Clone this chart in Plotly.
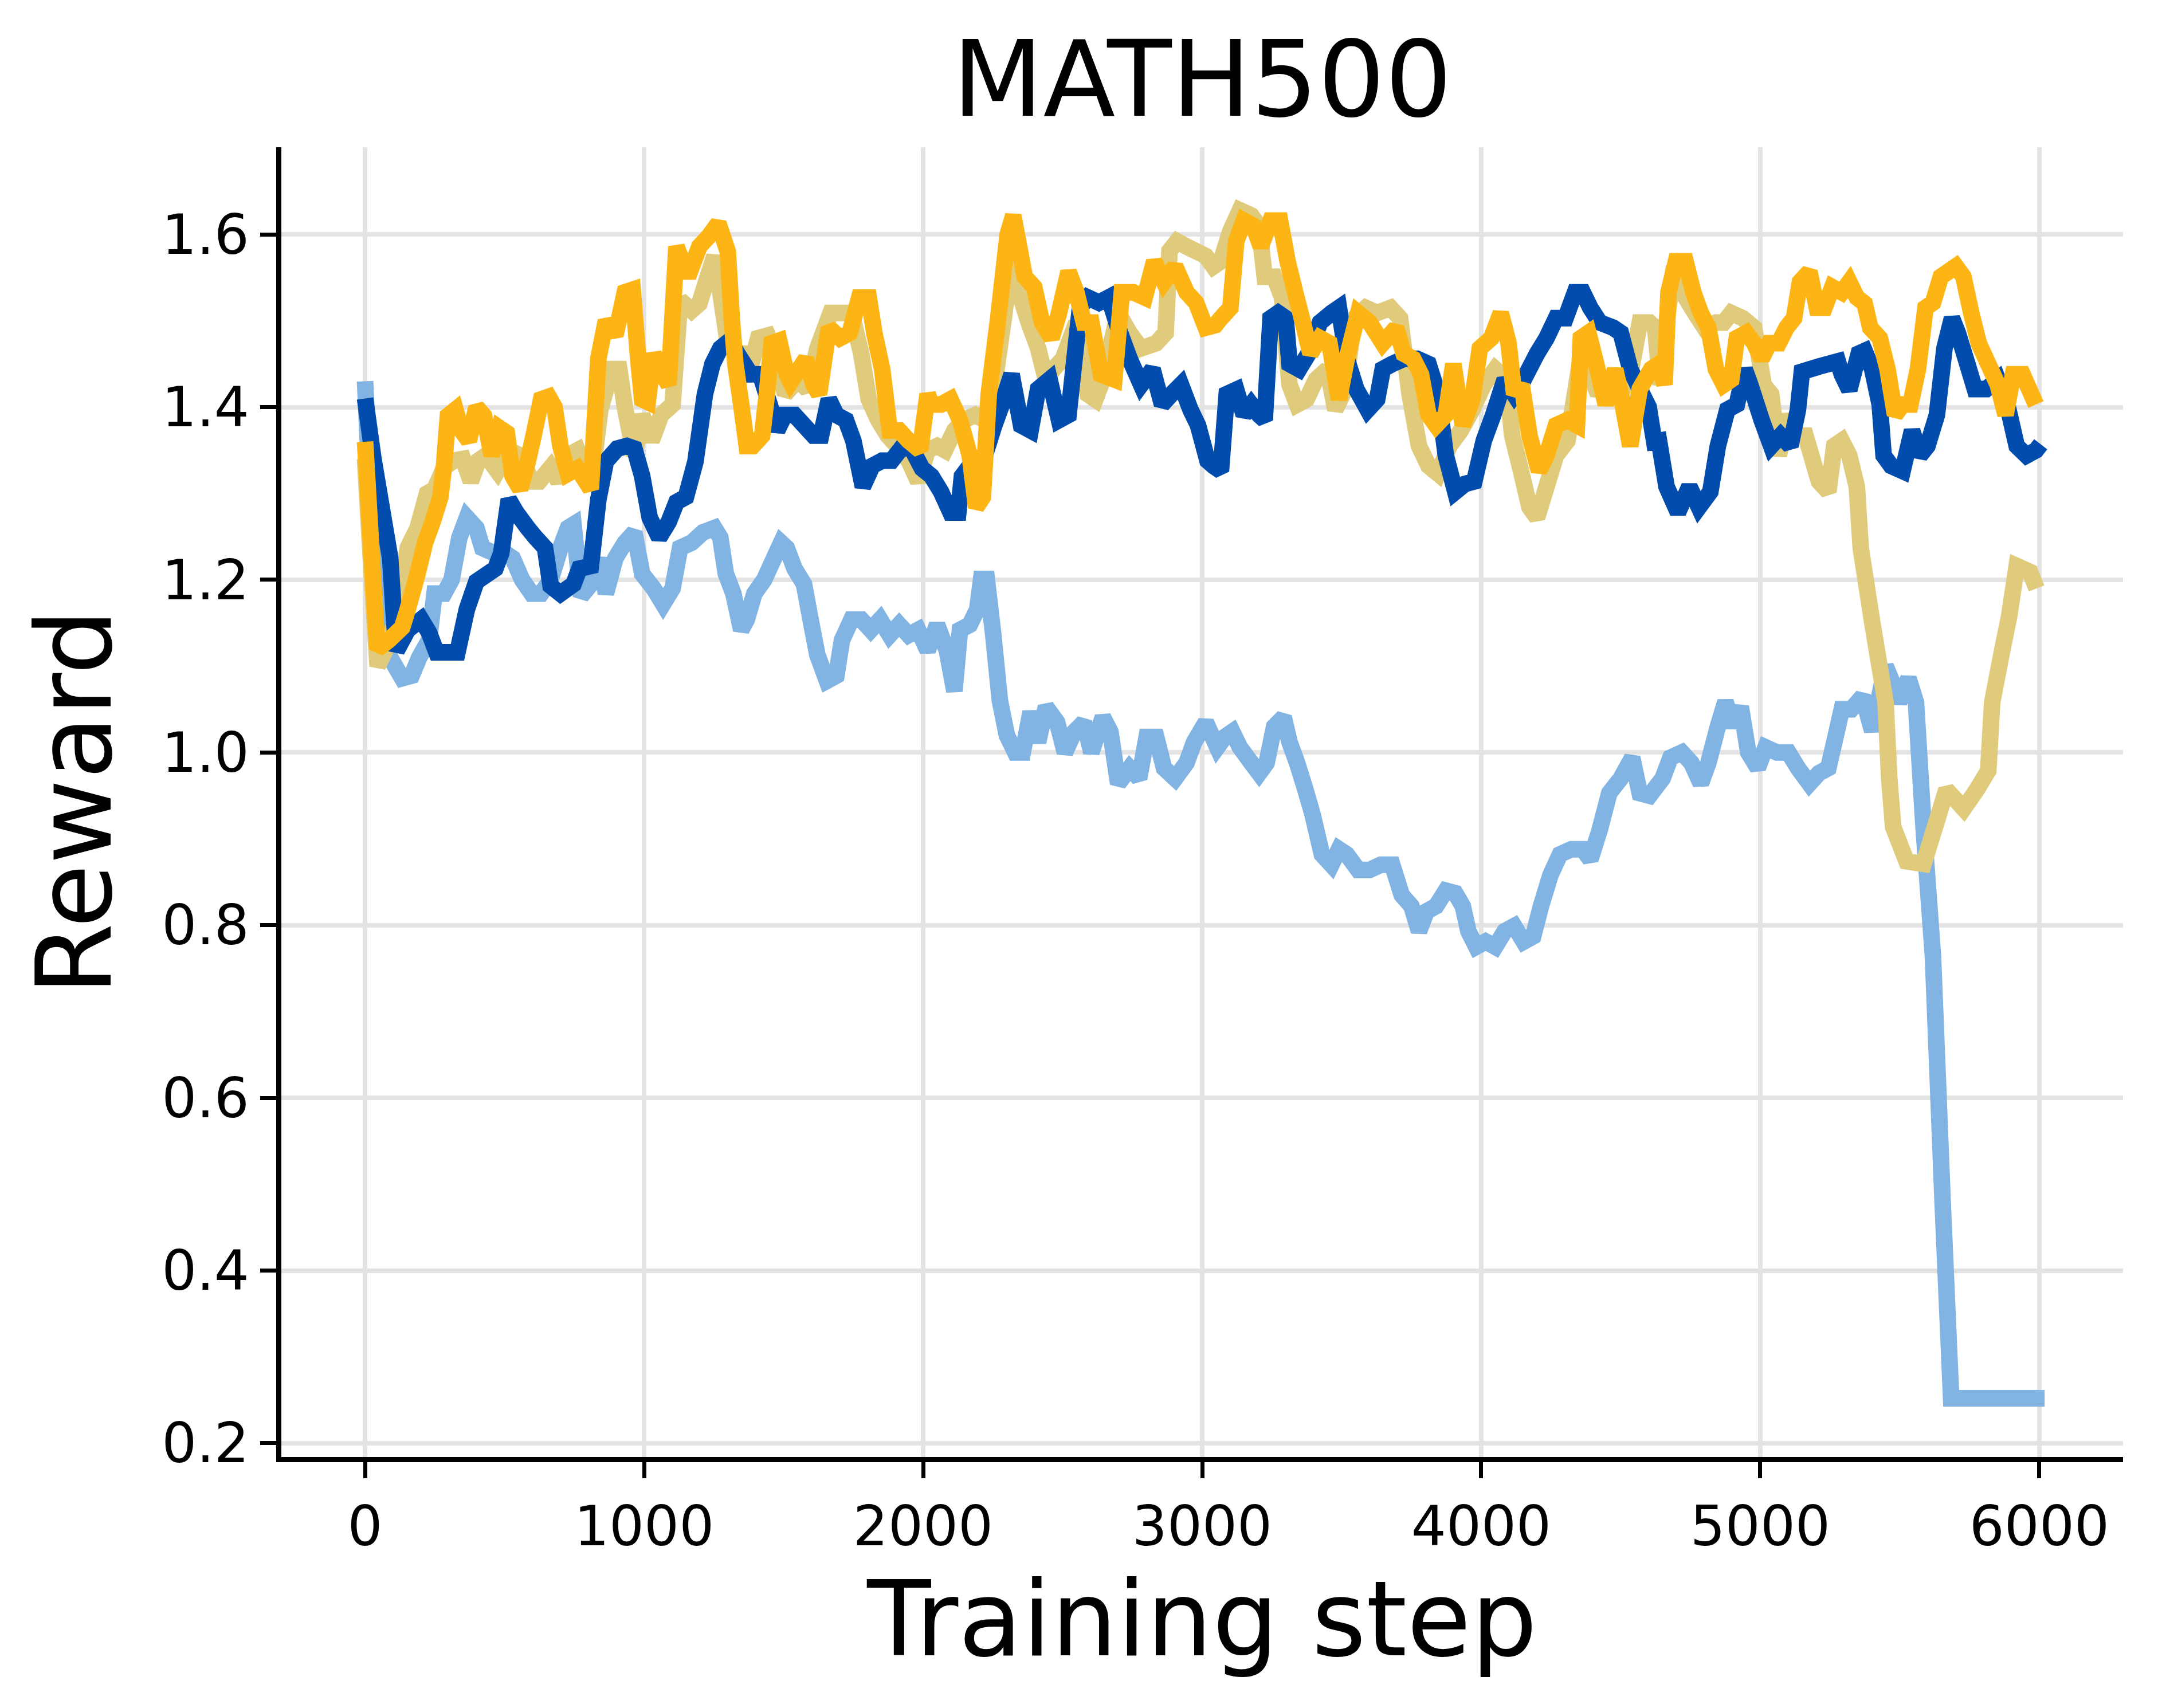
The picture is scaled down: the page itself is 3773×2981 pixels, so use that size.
import plotly.graph_objects as go

# ---------------- data ----------------
lb_steps = [0, 25, 50, 90, 133, 167, 194, 229, 249, 283,
            310, 338, 365, 399, 420, 461, 501, 529, 563, 597,
            631, 665, 700, 727, 747, 774, 822, 843, 863, 897,
            931, 965, 993, 1034, 1068, 1102, 1129, 1170, 1211, 1252,
            1273, 1293, 1320, 1348, 1368, 1395, 1430, 1457, 1491, 1511,
            1539, 1573, 1600, 1621, 1655, 1689, 1709, 1743, 1778, 1812,
            1846, 1880, 1914, 1948, 1982, 2016, 2050, 2085, 2112, 2132,
            2167, 2194, 2208, 2228, 2250, 2275, 2300, 2330, 2357, 2385,
            2412, 2440, 2480, 2508, 2542, 2576, 2603, 2644, 2671, 2699,
            2740, 2774, 2801, 2835, 2863, 2903, 2944, 2971, 3013, 3054,
            3081, 3108, 3135, 3176, 3204, 3231, 3258, 3292, 3313, 3340,
            3368, 3395, 3429, 3463, 3490, 3518, 3559, 3600, 3640, 3681,
            3715, 3750, 3777, 3804, 3838, 3873, 3907, 3934, 3954, 3982,
            4016, 4050, 4084, 4118, 4152, 4186, 4214, 4248, 4282, 4323,
            4364, 4391, 4425, 4459, 4500, 4541, 4568, 4603, 4650, 4678,
            4719, 4753, 4787, 4814, 4848, 4875, 4903, 4930, 4957, 4991,
            5019, 5060, 5101, 5135, 5176, 5210, 5244, 5271, 5292, 5326,
            5367, 5401, 5449, 5476, 5497, 5531, 5558, 5585, 5619, 5653,
            5684, 6019]
lb_reward = [1.43, 1.25, 1.15, 1.11, 1.086, 1.089, 1.11, 1.13, 1.184, 1.184,
             1.20, 1.249, 1.272, 1.26, 1.237, 1.231, 1.231, 1.225, 1.20, 1.184,
             1.184, 1.20, 1.237, 1.26, 1.264, 1.181, 1.20, 1.225, 1.184, 1.225,
             1.243, 1.255, 1.207, 1.19, 1.172, 1.19, 1.237, 1.243, 1.255, 1.26,
             1.249, 1.207, 1.184, 1.142, 1.154, 1.184, 1.20, 1.219, 1.243, 1.237,
             1.213, 1.195, 1.148, 1.113, 1.083, 1.089, 1.13, 1.154, 1.154, 1.142,
             1.154, 1.136, 1.148, 1.136, 1.142, 1.118, 1.148, 1.118, 1.071, 1.142,
             1.148, 1.166, 1.201, 1.201, 1.14, 1.06, 1.02, 1.0, 1.0, 1.047,
             1.012, 1.053, 1.035, 1.0, 1.024, 1.035, 1.0, 1.041, 1.024, 0.964,
             0.982, 0.97, 1.018, 1.018, 0.982, 0.97, 0.988, 1.012, 1.035, 1.006,
             1.018, 1.024, 1.006, 0.988, 0.976, 0.988, 1.03, 1.041, 1.012, 0.988,
             0.959, 0.929, 0.882, 0.87, 0.888, 0.882, 0.864, 0.864, 0.87, 0.87,
             0.835, 0.822, 0.793, 0.816, 0.822, 0.84, 0.837, 0.822, 0.793, 0.775,
             0.781, 0.775, 0.793, 0.799, 0.781, 0.787, 0.822, 0.858, 0.882, 0.888,
             0.888, 0.876, 0.911, 0.953, 0.97, 0.994, 0.953, 0.95, 0.97, 0.994,
             1.0, 0.988, 0.964, 0.988, 1.03, 1.059, 1.03, 1.053, 1.0, 0.982,
             1.006, 1.0, 1.0, 0.982, 0.964, 0.976, 0.982, 1.02, 1.05, 1.05,
             1.065, 1.025, 1.10, 1.079, 1.058, 1.086, 1.058, 0.914, 0.763, 0.483,
             0.252, 0.252]

db_steps = [0, 30, 90, 105, 113, 153, 201, 229, 256, 331,
            365, 399, 467, 488, 515, 542, 583, 611, 645, 665,
            700, 747, 768, 809, 836, 863, 904, 938, 965, 993,
            1020, 1054, 1088, 1116, 1150, 1184, 1218, 1245, 1273, 1307,
            1334, 1382, 1416, 1450, 1477, 1504, 1539, 1573, 1607, 1634,
            1662, 1689, 1723, 1750, 1784, 1818, 1853, 1887, 1928, 1962,
            1996, 2030, 2064, 2098, 2126, 2139, 2167, 2221, 2255, 2282,
            2317, 2351, 2385, 2412, 2453, 2487, 2521, 2562, 2590, 2630,
            2665, 2699, 2740, 2781, 2822, 2856, 2890, 2924, 2958, 2985,
            3019, 3040, 3067, 3088, 3122, 3149, 3176, 3204, 3224, 3245,
            3272, 3299, 3313, 3347, 3381, 3422, 3463, 3490, 3518, 3552,
            3593, 3627, 3647, 3681, 3722, 3770, 3811, 3845, 3873, 3907,
            3941, 3975, 4009, 4043, 4084, 4118, 4152, 4200, 4234, 4268,
            4302, 4336, 4364, 4391, 4425, 4473, 4500, 4534, 4568, 4600,
            4620, 4637, 4664, 4705, 4746, 4780, 4821, 4848, 4882, 4916,
            4944, 4964, 5005, 5039, 5073, 5108, 5135, 5149, 5210, 5278,
            5292, 5319, 5353, 5374, 5401, 5428, 5442, 5469, 5510, 5544,
            5572, 5599, 5633, 5660, 5687, 5708, 5742, 5769, 5810, 5851,
            5885, 5919, 5954, 5988, 6005]
db_reward = [1.41, 1.34, 1.225, 1.15, 1.118, 1.142, 1.154, 1.139, 1.116, 1.116,
             1.166, 1.198, 1.213, 1.231, 1.293, 1.278, 1.26, 1.249, 1.237, 1.193,
             1.184, 1.195, 1.213, 1.216, 1.293, 1.337, 1.352, 1.355, 1.352, 1.32,
             1.272, 1.249, 1.267, 1.29, 1.296, 1.337, 1.415, 1.45, 1.468, 1.477,
             1.462, 1.438, 1.438, 1.403, 1.373, 1.391, 1.391, 1.379, 1.367, 1.367,
             1.409, 1.391, 1.385, 1.361, 1.308, 1.332, 1.338, 1.338, 1.355, 1.35,
             1.329, 1.32, 1.302, 1.278, 1.278, 1.32, 1.332, 1.344, 1.379, 1.403,
             1.438, 1.379, 1.373, 1.421, 1.432, 1.385, 1.391, 1.515, 1.527, 1.521,
             1.527, 1.492, 1.456, 1.426, 1.444, 1.403, 1.415, 1.426, 1.397, 1.379,
             1.338, 1.332, 1.326, 1.415, 1.42, 1.391, 1.403, 1.391, 1.385, 1.503,
             1.509, 1.503, 1.45, 1.444, 1.462, 1.498, 1.509, 1.515, 1.456, 1.421,
             1.397, 1.409, 1.444, 1.45, 1.456, 1.456, 1.45, 1.415, 1.344, 1.302,
             1.311, 1.314, 1.361, 1.391, 1.432, 1.415, 1.432, 1.462, 1.48, 1.503,
             1.503, 1.533, 1.533, 1.515, 1.498, 1.492, 1.486, 1.444, 1.421, 1.40,
             1.36, 1.361, 1.308, 1.278, 1.308, 1.284, 1.302, 1.355, 1.397, 1.403,
             1.444, 1.426, 1.385, 1.355, 1.367, 1.355, 1.397, 1.441, 1.447, 1.453,
             1.438, 1.42, 1.462, 1.465, 1.444, 1.403, 1.344, 1.332, 1.326, 1.373,
             1.344, 1.355, 1.391, 1.468, 1.503, 1.486, 1.45, 1.421, 1.421, 1.432,
             1.403, 1.355, 1.344, 1.35, 1.357]

tan_steps = [0, 25, 45, 90, 126, 153, 188, 222, 249, 283,
             317, 351, 379, 406, 433, 474, 515, 556, 597, 624,
             665, 693, 727, 761, 809, 843, 884, 911, 931, 965,
             993, 1027, 1061, 1102, 1129, 1170, 1198, 1225, 1252, 1273,
             1300, 1334, 1361, 1382, 1409, 1443, 1477, 1505, 1552, 1586,
             1621, 1668, 1709, 1743, 1778, 1805, 1839, 1873, 1907, 1948,
             1982, 2016, 2050, 2078, 2112, 2146, 2187, 2221, 2255, 2289,
             2317, 2344, 2378, 2412, 2440, 2467, 2501, 2549, 2590, 2617,
             2644, 2699, 2740, 2781, 2835, 2869, 2883, 2910, 2944, 3013,
             3040, 3067, 3101, 3135, 3176, 3203, 3224, 3258, 3286, 3313,
             3340, 3374, 3408, 3449, 3477, 3511, 3545, 3586, 3627, 3675,
             3709, 3743, 3777, 3811, 3845, 3886, 3927, 3968, 4009, 4050,
             4091, 4111, 4138, 4173, 4200, 4234, 4268, 4309, 4350, 4377,
             4418, 4466, 4500, 4534, 4568, 4603, 4623, 4643, 4664, 4691,
             4732, 4766, 4800, 4841, 4869, 4896, 4937, 4978, 5012, 5039,
             5066, 5101, 5128, 5162, 5183, 5210, 5244, 5265, 5292, 5319,
             5346, 5360, 5401, 5449, 5462, 5476, 5524, 5585, 5633, 5667,
             5729, 5776, 5817, 5831, 5865, 5892, 5919, 5967, 5990]
tan_reward = [1.34, 1.20, 1.10, 1.13, 1.178, 1.237, 1.26, 1.30, 1.305, 1.33,
              1.338, 1.34, 1.314, 1.338, 1.344, 1.326, 1.35, 1.344, 1.314, 1.314,
              1.33, 1.314, 1.344, 1.35, 1.308, 1.397, 1.444, 1.444, 1.40, 1.344,
              1.391, 1.361, 1.391, 1.403, 1.524, 1.512, 1.52, 1.548, 1.575, 1.533,
              1.474, 1.462, 1.462, 1.447, 1.48, 1.483, 1.456, 1.415, 1.432, 1.42,
              1.468, 1.509, 1.509, 1.509, 1.462, 1.409, 1.385, 1.367, 1.355, 1.338,
              1.314, 1.35, 1.355, 1.35, 1.373, 1.385, 1.391, 1.385, 1.426, 1.503,
              1.574, 1.533, 1.498, 1.468, 1.432, 1.444, 1.456, 1.498, 1.415, 1.409,
              1.432, 1.509, 1.486, 1.468, 1.474, 1.486, 1.581, 1.592, 1.586, 1.575,
              1.563, 1.569, 1.604, 1.628, 1.622, 1.61, 1.551, 1.551, 1.527, 1.426,
              1.403, 1.409, 1.432, 1.444, 1.397, 1.42, 1.503, 1.515, 1.509, 1.515,
              1.503, 1.415, 1.355, 1.332, 1.323, 1.355, 1.373, 1.397, 1.426, 1.444,
              1.432, 1.367, 1.332, 1.284, 1.272, 1.308, 1.344, 1.361, 1.444, 1.45,
              1.415, 1.438, 1.415, 1.438, 1.498, 1.498, 1.492, 1.426, 1.498, 1.563,
              1.527, 1.509, 1.492, 1.498, 1.498, 1.509, 1.503, 1.492, 1.426, 1.415,
              1.344, 1.391, 1.367, 1.367, 1.344, 1.314, 1.302, 1.355, 1.361, 1.344,
              1.308, 1.237, 1.151, 1.058, 0.971, 0.914, 0.874, 0.871, 0.921, 0.957,
              0.935, 0.957, 0.979, 1.058, 1.115, 1.158, 1.216, 1.209, 1.19]

gold_steps = [0, 25, 44, 85, 133, 153, 188, 215, 242, 270,
              283, 297, 324, 345, 372, 399, 426, 454, 481, 508,
              529, 556, 583, 604, 631, 658, 679, 700, 727, 761,
              809, 836, 863, 897, 931, 959, 979, 993, 1013, 1034,
              1061, 1088, 1116, 1157, 1198, 1232, 1266, 1300, 1314, 1327,
              1348, 1368, 1389, 1423, 1440, 1457, 1484, 1511, 1525, 1580,
              1607, 1627, 1662, 1702, 1737, 1771, 1805, 1825, 1853, 1880,
              1914, 1948, 1989, 2016, 2030, 2064, 2098, 2132, 2167, 2190,
              2214, 2235, 2269, 2303, 2323, 2364, 2398, 2426, 2460, 2487,
              2521, 2549, 2576, 2603, 2637, 2685, 2712, 2753, 2794, 2828,
              2863, 2903, 2944, 2978, 3013, 3047, 3067, 3101, 3122, 3149,
              3183, 3210, 3245, 3279, 3306, 3333, 3361, 3388, 3422, 3456,
              3490, 3518, 3559, 3600, 3647, 3695, 3722, 3756, 3784, 3811,
              3838, 3873, 3900, 3934, 3968, 3995, 4036, 4070, 4098, 4118,
              4145, 4173, 4207, 4234, 4268, 4309, 4343, 4357, 4384, 4412,
              4446, 4480, 4500, 4534, 4568, 4609, 4637, 4657, 4671, 4698,
              4732, 4760, 4787, 4814, 4841, 4869, 4896, 4916, 4950, 4978,
              5005, 5032, 5066, 5094, 5121, 5142, 5176, 5203, 5230, 5258,
              5292, 5319, 5346, 5374, 5394, 5428, 5456, 5483, 5510, 5538,
              5565, 5592, 5619, 5647, 5674, 5701, 5728, 5756, 5783, 5817,
              5851, 5879, 5906, 5940, 5988]
gold_reward = [1.36, 1.22, 1.12, 1.13, 1.145, 1.166, 1.207, 1.243, 1.267, 1.296,
               1.332, 1.39, 1.397, 1.373, 1.361, 1.40, 1.39, 1.344, 1.376, 1.37,
               1.32, 1.305, 1.337, 1.367, 1.409, 1.412, 1.40, 1.355, 1.323, 1.329,
               1.305, 1.456, 1.50, 1.483, 1.533, 1.536, 1.456, 1.409, 1.406, 1.462,
               1.44, 1.426, 1.586, 1.551, 1.586, 1.598, 1.613, 1.58, 1.503, 1.45,
               1.403, 1.355, 1.355, 1.367, 1.415, 1.474, 1.477, 1.438, 1.429, 1.456,
               1.426, 1.415, 1.492, 1.48, 1.486, 1.527, 1.527, 1.486, 1.444, 1.373,
               1.373, 1.361, 1.35, 1.415, 1.403, 1.403, 1.409, 1.385, 1.344, 1.284,
               1.296, 1.415, 1.503, 1.60, 1.622, 1.551, 1.539, 1.498, 1.48, 1.509,
               1.557, 1.533, 1.498, 1.498, 1.438, 1.432, 1.533, 1.533, 1.527, 1.569,
               1.545, 1.563, 1.533, 1.521, 1.492, 1.495, 1.503, 1.515, 1.592, 1.616,
               1.61, 1.586, 1.616, 1.616, 1.569, 1.533, 1.498, 1.462, 1.48, 1.474,
               1.409, 1.456, 1.509, 1.498, 1.474, 1.492, 1.462, 1.456, 1.438, 1.391,
               1.379, 1.391, 1.45, 1.379, 1.409, 1.468, 1.48, 1.509, 1.474, 1.415,
               1.426, 1.367, 1.326, 1.344, 1.379, 1.385, 1.379, 1.48, 1.486, 1.45,
               1.403, 1.444, 1.415, 1.355, 1.421, 1.444, 1.45, 1.426, 1.533, 1.569,
               1.569, 1.533, 1.509, 1.492, 1.444, 1.426, 1.432, 1.48, 1.486, 1.474,
               1.456, 1.474, 1.474, 1.492, 1.503, 1.545, 1.557, 1.515, 1.515, 1.539,
               1.533, 1.545, 1.527, 1.52, 1.492, 1.48, 1.444, 1.391, 1.403, 1.403,
               1.444, 1.515, 1.521, 1.551, 1.557, 1.563, 1.551, 1.509, 1.474, 1.45,
               1.426, 1.391, 1.438, 1.438, 1.403]

x_ticks = [0, 1000, 2000, 3000, 4000, 5000, 6000]
y_ticks = [0.2, 0.4, 0.6, 0.8, 1.0, 1.2, 1.4, 1.6]
y_ticktext = ["0.2", "0.4", "0.6", "0.8", "1.0", "1.2", "1.4", "1.6"]

title_text = "MATH500"
x_label = "Training step"
y_label = "Reward"

# ---------------- styling ----------------
FONT = "DejaVu Sans"
LINE_W = 29
series = [
    (lb_steps, lb_reward, "#82B4E3"),
    (tan_steps, tan_reward, "#E0CB7C"),
    (db_steps, db_reward, "#024CAD"),
    (gold_steps, gold_reward, "#FDB515"),
]

fig = go.Figure()
for xs, ys, col in series:
    n = min(len(xs), len(ys))
    fig.add_trace(go.Scatter(x=xs[:n], y=ys[:n], mode="lines",
                             line=dict(color=col, width=LINE_W, simplify=False),
                             showlegend=False, hoverinfo="skip"))

W, H = 3773, 2981
fig.update_layout(
    width=W, height=H,
    paper_bgcolor="white", plot_bgcolor="white",
    margin=dict(l=491, r=68, t=257, b=438, pad=0),
    font=dict(family=FONT, color="black"),
    title=dict(text=title_text, font=dict(family=FONT, size=184, color="black"),
               x=0.5, xanchor="center", xref="paper",
               y=1 - 138 / H, yanchor="middle", yref="container"),
    showlegend=False,
)
fig.update_xaxes(
    range=[-300, 6300], tickmode="array", tickvals=x_ticks,
    ticktext=[str(v) for v in x_ticks],
    showgrid=True, gridcolor="#E3E3E3", gridwidth=8,
    zeroline=False, showline=True, linecolor="black", linewidth=9,
    ticks="outside", ticklen=28, tickwidth=7, tickcolor="black",
    tickfont=dict(family=FONT, size=96, color="black"),
    ticklabelstandoff=2,
    title=dict(text=x_label, font=dict(family=FONT, size=182, color="black"), standoff=24),
)
fig.update_yaxes(
    range=[0.184, 1.701], tickmode="array", tickvals=y_ticks, ticktext=y_ticktext,
    showgrid=True, gridcolor="#E3E3E3", gridwidth=8,
    zeroline=False, showline=True, linecolor="black", linewidth=9,
    ticks="outside", ticklen=28, tickwidth=7, tickcolor="black",
    tickfont=dict(family=FONT, size=96, color="black"),
    ticklabelstandoff=0,
    title=dict(text=y_label, font=dict(family=FONT, size=181, color="black"), standoff=30),
)

fig.write_html("out.html")
